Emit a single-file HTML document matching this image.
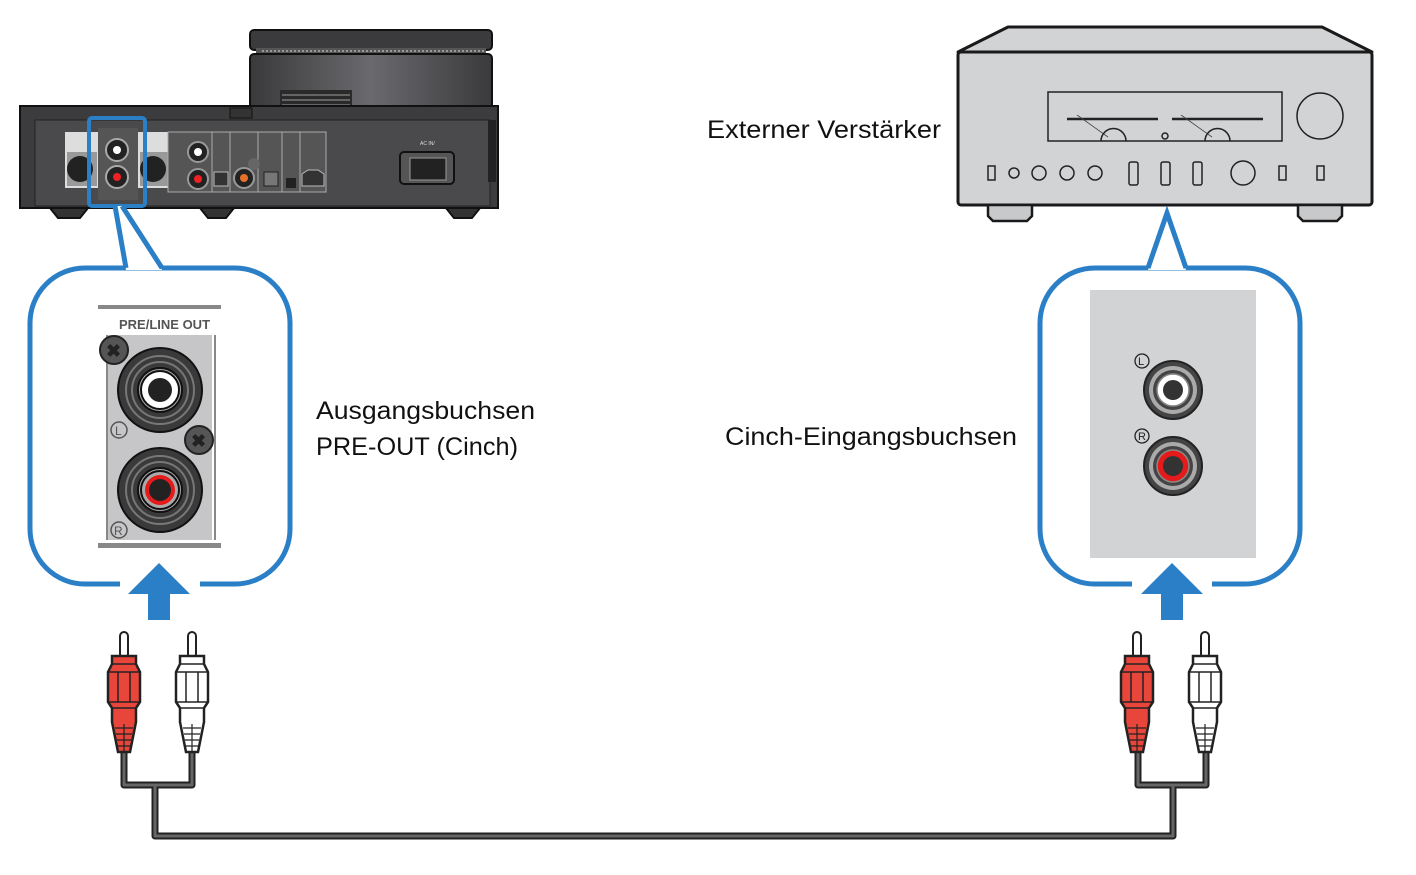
<!DOCTYPE html>
<html><head><meta charset="utf-8"><style>
html,body{margin:0;padding:0;background:#fff;}
svg{display:block;}
text{font-family:"Liberation Sans",sans-serif;fill:#111;}
</style></head><body>
<svg width="1416" height="875" viewBox="0 0 1416 875" xmlns="http://www.w3.org/2000/svg">
<defs>
<linearGradient id="dk" x1="0" x2="1" y1="0" y2="0">
<stop offset="0" stop-color="#3a3a3c"/><stop offset="0.5" stop-color="#6a6a6e"/><stop offset="1" stop-color="#3a3a3c"/>
</linearGradient>
<g id="plugR">
<rect x="12" y="0" width="8" height="26" rx="4" fill="#fff" stroke="#222" stroke-width="2"/>
<path d="M4 24 H28 V32 L32 40 V70 L28 76 V90 L22 120 H10 L4 90 V76 L0 70 V40 L4 32 Z" fill="#e8463a" stroke="#222" stroke-width="2.5"/>
<path d="M4 32 H28 M0 40 H32 M0 70 H32 M4 76 H28 M10 40 V70 M22 40 V70" stroke="#222" stroke-width="1.5" fill="none"/>
<path d="M7 96 H25 M8 102 H24 M9 108 H23 M10 114 H22 M16 92 V120" stroke="#222" stroke-width="1.2"/>
</g>
<g id="plugW">
<rect x="12" y="0" width="8" height="26" rx="4" fill="#fff" stroke="#222" stroke-width="2"/>
<path d="M4 24 H28 V32 L32 40 V70 L28 76 V90 L22 120 H10 L4 90 V76 L0 70 V40 L4 32 Z" fill="#fff" stroke="#222" stroke-width="2.5"/>
<path d="M4 32 H28 M0 40 H32 M0 70 H32 M4 76 H28 M10 40 V70 M22 40 V70" stroke="#222" stroke-width="1.5" fill="none"/>
<path d="M7 96 H25 M8 102 H24 M9 108 H23 M10 114 H22 M16 92 V120" stroke="#222" stroke-width="1.2"/>
</g>
<g id="jackBig">
<circle r="42" fill="#3a3a3a" stroke="#111" stroke-width="2"/>
<circle r="34" fill="none" stroke="#777" stroke-width="2"/>
<circle r="28" fill="none" stroke="#777" stroke-width="2"/>
<circle r="22" fill="#aaa" stroke="#111" stroke-width="2"/>
</g>
</defs>

<!-- LEFT DEVICE -->
<rect x="250" y="30" width="242" height="20" rx="4" fill="#3b3b3d" stroke="#111" stroke-width="2"/>
<rect x="256" y="48" width="230" height="6" fill="#555"/>
<path d="M262 51 H484" stroke="#999" stroke-width="2" stroke-dasharray="2 2"/>
<rect x="250" y="54" width="242" height="56" rx="4" fill="url(#dk)" stroke="#111" stroke-width="2"/>
<rect x="280" y="90" width="72" height="18" fill="#2a2a2a"/>
<path d="M282 95 H350 M282 100 H350 M282 105 H350" stroke="#777" stroke-width="1.5"/>
<rect x="20" y="106" width="478" height="102" fill="#3c3c3e" stroke="#111" stroke-width="2"/>
<rect x="35" y="120" width="455" height="86" fill="#4a4a4c" stroke="#222" stroke-width="1"/>
<rect x="488" y="120" width="8" height="62" fill="#222"/>
<path d="M230 108 h22 v10 h-22z" fill="#333" stroke="#111"/>
<rect x="65" y="132" width="105" height="56" fill="#ddd"/>
<rect x="67" y="152" width="30" height="34" fill="#999"/>
<circle cx="80" cy="169" r="13" fill="#222"/>
<rect x="140" y="152" width="28" height="34" fill="#999"/>
<circle cx="153" cy="169" r="13" fill="#222"/>
<rect x="168" y="132" width="158" height="60" fill="#555" stroke="#aaa" stroke-width="1"/>
<path d="M212 132V192 M230 132V192 M258 132V192 M282 132V192 M300 132V192" stroke="#aaa"/>
<circle cx="198" cy="152" r="10" fill="#222" stroke="#999" stroke-width="2"/><circle cx="198" cy="152" r="4" fill="#fff"/>
<circle cx="198" cy="179" r="10" fill="#222" stroke="#999" stroke-width="2"/><circle cx="198" cy="179" r="4" fill="#e22"/>
<rect x="214" y="172" width="14" height="14" fill="#333" stroke="#bbb"/>
<circle cx="244" cy="178" r="10" fill="#222" stroke="#999" stroke-width="2"/><circle cx="244" cy="178" r="4" fill="#e8712a"/>
<circle cx="254" cy="164" r="6" fill="#666"/>
<rect x="264" y="172" width="14" height="14" fill="#777" stroke="#222"/>
<rect x="286" y="178" width="10" height="10" fill="#222"/>
<path d="M302 186 V174 L308 170 H318 L324 174 V186Z" fill="#333" stroke="#bbb"/>
<rect x="400" y="152" width="54" height="32" rx="4" fill="#555" stroke="#111" stroke-width="2"/>
<rect x="410" y="158" width="36" height="22" fill="#222" stroke="#999"/>
<text x="420" y="145" font-size="5" style="fill:#ddd">AC IN/</text>
<path d="M50 208 L58 218 H80 L88 208Z M200 208 L208 218 H226 L234 208Z M446 208 L454 218 H472 L480 208Z" fill="#333" stroke="#111" stroke-width="2"/>
<rect x="98" y="128" width="40" height="72" fill="#555"/>
<circle cx="117" cy="150" r="11" fill="#222" stroke="#aaa" stroke-width="2"/><circle cx="117" cy="150" r="4" fill="#fff"/>
<circle cx="117" cy="177" r="11" fill="#222" stroke="#aaa" stroke-width="2"/><circle cx="117" cy="177" r="4" fill="#e22"/>
<rect x="89" y="118" width="56" height="88" rx="3" fill="none" stroke="#2a7fc6" stroke-width="4"/>

<!-- LEFT CALLOUT -->
<rect x="30" y="268" width="260" height="316" rx="55" fill="#fff" stroke="#2a7fc6" stroke-width="5"/>
<path d="M115 206 L126 270 H162 L122 206 Z" fill="#fff"/>
<path d="M115 206 L126 268 M122 206 L162 268" stroke="#2a7fc6" stroke-width="5" fill="none"/>
<rect x="98" y="305" width="123" height="243" fill="#fff"/>
<rect x="98" y="305" width="123" height="4" fill="#888"/>
<rect x="98" y="543" width="123" height="5" fill="#888"/>
<rect x="108" y="335" width="104" height="205" fill="#c6c6c8"/>
<path d="M107 335V540 M215 335V540" stroke="#888" stroke-width="2"/>
<text x="119" y="329" font-size="13" font-weight="bold" style="fill:#555">PRE/LINE OUT</text>
<use href="#jackBig" x="160" y="390"/>
<circle cx="160" cy="390" r="19" fill="#fff" stroke="#111" stroke-width="2"/>
<circle cx="160" cy="390" r="12" fill="#222"/>
<use href="#jackBig" x="160" y="490"/>
<circle cx="160" cy="490" r="19" fill="#aaa" stroke="#111" stroke-width="2"/>
<circle cx="160" cy="490" r="15" fill="#e51b1b"/>
<circle cx="160" cy="490" r="11" fill="#222"/>
<circle cx="114" cy="350" r="14" fill="#555" stroke="#222" stroke-width="2"/>
<text x="106" y="357" font-size="18" font-weight="bold" style="fill:#222">✖</text>
<circle cx="199" cy="440" r="14" fill="#555" stroke="#222" stroke-width="2"/>
<text x="191" y="447" font-size="18" font-weight="bold" style="fill:#222">✖</text>
<circle cx="119" cy="430" r="8" fill="none" stroke="#555" stroke-width="1.5"/>
<text x="115" y="435" font-size="12" style="fill:#555">L</text>
<circle cx="119" cy="530" r="8" fill="none" stroke="#555" stroke-width="1.5"/>
<text x="114" y="535" font-size="12" style="fill:#555">R</text>
<rect x="120" y="578" width="80" height="10" fill="#fff"/>
<path d="M159 563 L190 594 H170 V620 H148 V594 H128Z" fill="#2a7fc6"/>

<!-- RIGHT AMP -->
<path d="M958 52 L1008 27 H1322 L1372 52Z" fill="#d2d3d5" stroke="#1a1a1a" stroke-width="3" stroke-linejoin="round"/>
<rect x="958" y="52" width="414" height="153" rx="3" fill="#d2d3d5" stroke="#1a1a1a" stroke-width="3"/>
<rect x="1048" y="92" width="234" height="49" fill="#d2d3d5" stroke="#222" stroke-width="1.5"/>
<path d="M1067 119 H1158 M1172 119 H1263" stroke="#222" stroke-width="2.5"/>
<path d="M1077 115 L1108 137 M1181 115 L1212 137" stroke="#444" stroke-width="0.8"/>
<path d="M1101 141 A12 12 0 0 1 1126 141 M1205 141 A12 12 0 0 1 1230 141" fill="none" stroke="#222" stroke-width="1.5"/>
<circle cx="1165" cy="136" r="3" fill="none" stroke="#222" stroke-width="1.5"/>
<circle cx="1320" cy="116" r="23" fill="none" stroke="#222" stroke-width="1.5"/>
<g fill="none" stroke="#222" stroke-width="1.5">
<rect x="988" y="166" width="7" height="14"/>
<circle cx="1014" cy="173" r="5"/><circle cx="1039" cy="173" r="7"/><circle cx="1067" cy="173" r="7"/><circle cx="1095" cy="173" r="7"/>
<rect x="1129" y="162" width="9" height="23" rx="2"/><rect x="1161" y="162" width="9" height="23" rx="2"/><rect x="1193" y="162" width="9" height="23" rx="2"/>
<circle cx="1243" cy="173" r="12"/>
<rect x="1279" y="166" width="7" height="14"/><rect x="1317" y="166" width="7" height="14"/>
</g>
<path d="M988 205 V216 L993 221 H1027 L1032 216 V205Z M1298 205 V216 L1303 221 H1337 L1342 216 V205Z" fill="#c8c9cb" stroke="#1a1a1a" stroke-width="2.5"/>

<!-- RIGHT CALLOUT -->
<rect x="1040" y="268" width="260" height="316" rx="55" fill="#fff" stroke="#2a7fc6" stroke-width="5"/>
<path d="M1148 270 L1167 213 L1186 270Z" fill="#fff"/>
<path d="M1148 268 L1167 213 L1186 268" fill="none" stroke="#2a7fc6" stroke-width="5"/>
<rect x="1090" y="290" width="166" height="268" fill="#d2d3d5"/>
<g>
<circle cx="1173" cy="390" r="29" fill="#444" stroke="#222" stroke-width="2"/>
<circle cx="1173" cy="390" r="24" fill="#aaa"/>
<circle cx="1173" cy="390" r="20" fill="#444"/>
<circle cx="1173" cy="390" r="16" fill="#fff" stroke="#888" stroke-width="1.5"/>
<circle cx="1173" cy="390" r="10" fill="#333"/>
<circle cx="1173" cy="466" r="29" fill="#444" stroke="#222" stroke-width="2"/>
<circle cx="1173" cy="466" r="24" fill="#aaa"/>
<circle cx="1173" cy="466" r="20" fill="#444"/>
<circle cx="1173" cy="466" r="16" fill="#e51b1b" stroke="#888" stroke-width="1.5"/>
<circle cx="1173" cy="466" r="10" fill="#333"/>
</g>
<circle cx="1142" cy="361" r="7" fill="none" stroke="#222" stroke-width="1.3"/>
<text x="1138" y="365" font-size="11" style="fill:#222">L</text>
<circle cx="1142" cy="436" r="7" fill="none" stroke="#222" stroke-width="1.3"/>
<text x="1138" y="440" font-size="11" style="fill:#222">R</text>
<rect x="1132" y="578" width="80" height="10" fill="#fff"/>
<path d="M1172 563 L1203 594 H1183 V620 H1161 V594 H1141Z" fill="#2a7fc6"/>

<!-- CABLES -->
<path d="M124 750 V785 H155 V836 H1173 V785 H1206 V750 M192 750 V785 H155 M1138 750 V785 H1173" fill="none" stroke="#222" stroke-width="7" stroke-linejoin="round"/>
<path d="M124 750 V785 H155 V836 H1173 V785 H1206 V750 M192 750 V785 H155 M1138 750 V785 H1173" fill="none" stroke="#666" stroke-width="3" stroke-linejoin="round"/>
<use href="#plugR" x="108" y="632"/>
<use href="#plugW" x="176" y="632"/>
<use href="#plugR" x="1121" y="632"/>
<use href="#plugW" x="1189" y="632"/>

<!-- TEXT -->
<text x="707" y="138" font-size="25" textLength="234" lengthAdjust="spacingAndGlyphs">Externer Verstärker</text>
<text x="316" y="419" font-size="25" textLength="219" lengthAdjust="spacingAndGlyphs">Ausgangsbuchsen</text>
<text x="316" y="455" font-size="25" textLength="202" lengthAdjust="spacingAndGlyphs">PRE-OUT (Cinch)</text>
<text x="725" y="445" font-size="25" textLength="292" lengthAdjust="spacingAndGlyphs">Cinch-Eingangsbuchsen</text>
</svg>
</body></html>
